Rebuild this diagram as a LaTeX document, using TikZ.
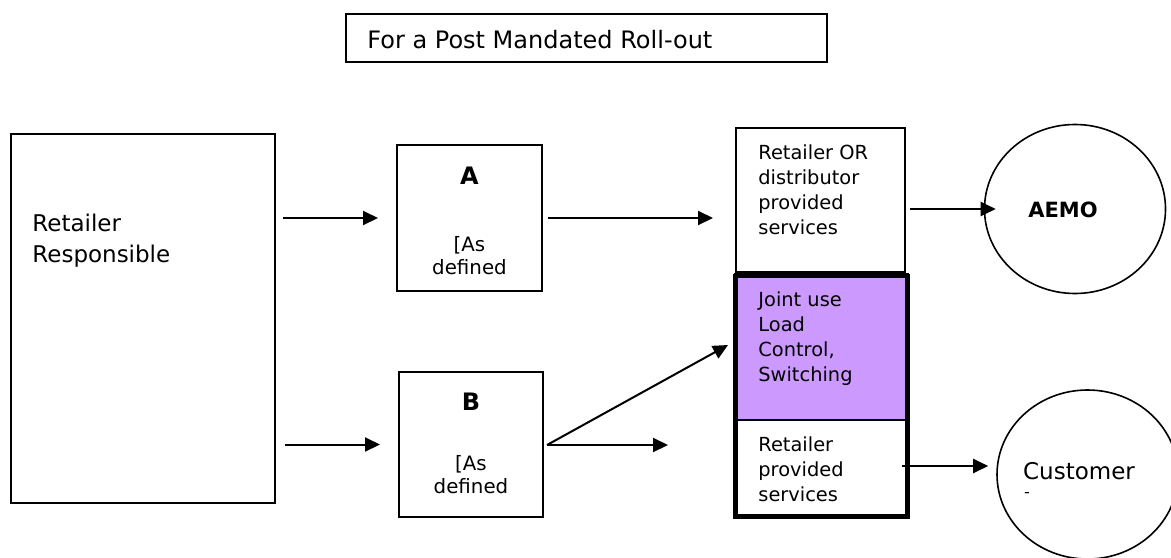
\documentclass[tikz,border=0pt]{standalone}
\usepackage{fontspec}
\setmainfont{DejaVu Sans}
\usetikzlibrary{arrows.meta,fit,shapes.geometric}
\definecolor{lilac}{HTML}{CC99FF}
\tikzset{
  box/.style = {draw=black, line width=1pt, inner sep=0pt},% plain frame
  txt/.style = {align=left, anchor=west, inner sep=0pt,
    font=\fontsize{9.7}{12.5}\selectfont},% text set flush left
  ctxt/.style = {align=center, inner sep=0pt,
    font=\fontsize{9.9}{11.5}\selectfont},% centred text
  letter/.style = {inner sep=0pt, font=\fontsize{12}{14}\selectfont\bfseries},
  party/.style = {ellipse, draw=black, line width=0.8pt,
    minimum width=90.5pt, minimum height=84.5pt},% AEMO, customer
  arr/.style = {line width=1pt, -{Triangle[length=7.5pt,width=7pt]}}
}
\begin{document}
\begin{tikzpicture}[x=0.5pt, y=-0.5pt]
\useasboundingbox (0,0) rectangle (1171,557);
% title
\node[box] (title) [fit={(346,14) (827,62)}] {};
\node[txt, font=\fontsize{12}{14}\selectfont] (titleT) at (367,40)
  {For a Post Mandated Roll-out};
% left side
\node[box] (resp) [fit={(11,134) (275,503)}] {};
\node[txt, font=\fontsize{11.5}{15.5}\selectfont] (respT) at (32,241)
  {Retailer\\Responsible};
\node[box] (boxA) [fit={(397,145) (542,291)}] {};
\node[letter] (A) at (469.5,176) {A};
\node[ctxt] (AT) at (469.5,256) {[As\\defined};
\node[box] (boxB) [fit={(399,372) (543,517)}] {};
\node[letter] (B) at (471,402) {B};
\node[ctxt] (BT) at (471,475) {[As\\defined};
% services
\node[box] (svc) [fit={(736,128) (905,272)}] {};
\node[txt] (svcT) at (758,190) {Retailer OR\\distributor\\provided\\services};
\node[box, fill=lilac] (joint) [fit={(735,274) (908,420)}] {};
\node[txt] (jointT) at (758,339) {Joint use\\Load\\Control,\\Switching};
\node[box] (retprov) [fit={(735,420) (908,517)}] {};
\node[txt] (retprovT) at (758,469) {Retailer\\provided\\services};
\node[draw=black, line width=2.25pt, inner sep=0pt] (frame)
  [fit={(735.5,276) (907.5,516.5)}] {};
% parties
\node[party] (aemo) at (1075,209) {};
\node[inner sep=0pt, font=\fontsize{10.5}{12}\selectfont\bfseries] (aemoT)
  at (1063,210) {AEMO};
\node[party] (cust) at (1087.5,474.5) {};
\node[inner sep=0pt, font=\fontsize{11.5}{13}\selectfont] (custT)
  at (1079,471) {Customer};
\node[inner sep=0pt, font=\fontsize{8}{9}\selectfont] (custD) at (1027,495) {-};
% connectors
\coordinate (bOut) at (547,445);
\coordinate (jointIn) at (728,345);
\draw[arr, shorten <=3.5pt, shorten >=9pt] (resp.east |- boxA.west) -- (boxA.west);
\draw[arr, shorten <=4.5pt, shorten >=9pt] (resp.east |- boxB.west) -- (boxB.west);
\draw[arr, shorten <=2.5pt, shorten >=11pt] (boxA.east) -- (svc.west |- boxA.east);
\draw[arr] (bOut) -- (jointIn);
\draw[arr, shorten >=33pt] (bOut) -- (retprov.west |- bOut);
\draw[arr, shorten <=2pt, shorten >=-6pt] (svc.east |- aemo.west) -- (aemo.west);
\draw[arr, shorten <=-3.5pt, shorten >=4pt] (retprov.east |- 0,466) -- (cust.west |- 0,466);
\end{tikzpicture}
\end{document}
